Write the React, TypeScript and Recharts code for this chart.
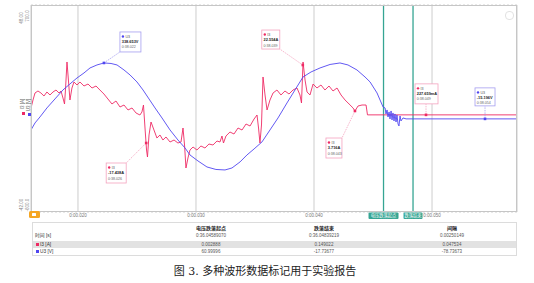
import React from "react"
import {
  LineChart, Line, XAxis, YAxis, CartesianGrid, ReferenceLine, ReferenceDot
} from "recharts"

// I3 current trace: [time ms, current A]
const currentTrace: [number, number][] = [
  [16.02, 3.22], [16.19, 6.7], [16.36, 9.74], [16.61, 10.61], [16.86, 9.74], [17.12, 8.43],
  [17.37, 10.17], [17.63, 8.87], [17.88, 10.17], [18.14, 11.04], [18.39, 9.74], [18.56, 10.61],
  [18.73, 7.57], [18.86, 4.96], [18.94, 11.04], [19.07, 23.22], [19.19, 15.39], [19.32, 6.7],
  [19.49, 11.91], [19.66, 14.52], [19.92, 13.22], [20.17, 14.52], [20.51, 12.78], [20.85, 13.65],
  [21.19, 11.91], [21.53, 12.78], [21.86, 11.04], [22.2, 9.3], [22.54, 7.13], [22.88, 4.96],
  [23.22, 6.26], [23.56, 3.65], [23.9, 4.52], [24.24, 2.35], [24.58, 3.22], [24.92, 1.04],
  [25.25, 0.17], [25.42, 1.48], [25.55, 4.52], [25.68, -5.48], [25.81, -15.04], [25.89, -18.09],
  [26.02, -8.52], [26.19, -2.87], [26.44, -6.35], [26.69, -9.83], [26.95, -8.52], [27.2, -10.7],
  [27.46, -9.39], [27.8, -11.57], [28.14, -10.7], [28.47, -12.0], [28.73, -11.57], [28.9, -5.48],
  [29.03, -12.87], [29.15, -22.87], [29.32, -18.52], [29.49, -15.04], [29.75, -13.74], [30.08, -15.04],
  [30.42, -13.3], [30.76, -14.17], [31.1, -12.44], [31.44, -12.87], [31.78, -11.13], [32.03, -11.57],
  [32.2, -8.96], [32.33, -12.0], [32.54, -8.96], [32.88, -7.22], [33.22, -8.09], [33.56, -5.48],
  [33.9, -6.35], [34.24, -3.74], [34.58, -4.61], [34.92, -1.57], [35.17, 0.17], [35.3, -5.48],
  [35.42, -12.0], [35.55, -4.17], [35.68, 16.7], [35.85, 8.87], [36.02, 2.35], [36.27, 6.7],
  [36.53, 9.74], [36.86, 11.04], [37.2, 8.87], [37.54, 10.61], [37.88, 9.3], [38.22, 11.04],
  [38.56, 11.91], [38.81, 8.87], [38.94, 5.39], [39.07, 23.22], [39.24, 15.39], [39.41, 10.17],
  [39.66, 8.87], [39.92, 13.65], [40.25, 11.91], [40.59, 13.22], [40.93, 11.04], [41.27, 12.78],
  [41.61, 10.61], [41.95, 11.91], [42.29, 8.87], [42.63, 6.7], [42.97, 4.96], [43.31, 3.22],
  [43.47, 1.91], [43.73, 4.09], [44.07, 4.52], [44.41, 4.52], [44.53, 0.23], [45.17, 0.23],
  [47.29, 0.23], [49.49, 0.23], [57.2, 0.23],
]

// U3 voltage trace: [time ms, voltage V]
const voltageTrace: [number, number][] = [
  [16.02, -84.8], [16.36, -40.8], [16.78, -3.1], [17.37, 53.4], [18.05, 109.9], [18.73, 166.4],
  [19.32, 204.1], [19.92, 241.8], [20.51, 273.2], [21.02, 304.6], [21.61, 323.4], [22.2, 336.0],
  [22.8, 332.8], [23.31, 323.4], [23.9, 292.0], [24.41, 260.6], [25.0, 216.7], [25.51, 166.4],
  [26.02, 109.9], [26.53, 53.4], [27.12, -9.4], [27.8, -84.8], [28.47, -147.6], [29.07, -197.8],
  [29.49, -241.8], [30.17, -279.5], [30.93, -317.1], [31.69, -332.8], [32.46, -336.0], [33.05, -323.4],
  [33.73, -285.7], [34.32, -241.8], [34.92, -204.1], [35.59, -160.1], [35.93, -122.5], [36.27, -84.8],
  [36.95, -9.4], [37.71, 84.8], [38.39, 166.4], [39.07, 248.1], [39.75, 279.5], [40.51, 304.6],
  [41.36, 326.6], [42.2, 336.0], [42.88, 323.4], [43.64, 292.0], [44.32, 248.1], [44.75, 216.7],
  [45.34, 147.6], [45.85, 59.7], [46.02, 53.4], [46.1, 15.7], [46.19, 40.8], [46.27, -3.1],
  [46.36, 28.3], [46.44, -15.7], [46.53, 34.5], [46.61, -22.0], [46.69, 22.0], [46.78, -28.3],
  [46.86, 15.7], [46.95, -34.5], [47.03, 9.4], [47.12, -47.1], [47.2, -59.7], [47.29, 3.1],
  [47.37, -28.3], [47.54, -9.4], [47.8, -15.2], [54.49, -15.2], [57.2, -15.2],
]

const timeTicks = [20, 30, 40, 50]
const voltGrid = [650, 487, 323, 160, -3, -166, -330, -493]

// voltage drop cursors (ms)
const dropStart = 45.89
const dropEnd = 48.39

// marker annotations
const markerSeries = ["U3", "I3", "I3", "I3", "I3", "U3"]
const markerTimes = [22.2, 39.05, 25.78, 43.47, 49.49, 54.49]
const markerValues = [336.0, 21.9, -12.0, 1.91, 0.23, -15.2]
const markerReadouts = ["338.653V", "22.554A", "-17.438A", "3.716A", "227.659mA", "-15.196V"]
const markerStamps = ["0:38.022", "0:38.039", "0:38.026", "0:38.043", "0:38.049", "0:38.054"]

// table below the chart
const tableHeaders = ["电压跌落起点", "跌落结束", "间隔"]
const tableTimes = ["0:36.04589070", "0:36.04839219", "0.00250149"]
const tableI3 = ["0.002888", "0.149022", "0.047534"]
const tableU3 = ["60.99996", "-17.73677", "-78.73673"]

const RED = "#ee2a64"
const BLUE = "#5046f0"
const TEAL = "#35a593"

// box placement relative to each marker (px)
const boxLayout = [
  { dx: 16, dy: -31, w: 21, h: 20 },
  { dx: -41, dy: -35, w: 18, h: 19 },
  { dx: -40, dy: 20, w: 20, h: 20 },
  { dx: -29, dy: 27, w: 16, h: 20 },
  { dx: -11, dy: -31, w: 23, h: 20 },
  { dx: -10, dy: -31, w: 20, h: 18 },
]

const currentData = currentTrace.map(([t, v]) => ({ t, v }))
const voltageData = voltageTrace.map(([t, v]) => ({ t, v }))

const markerShape = (i: number) => (p: any) => {
  const { cx, cy } = p
  const o = boxLayout[i]
  const isU = markerSeries[i] === "U3"
  const col = isU ? BLUE : RED
  const edge = isU ? "#a59ef0" : "#f4a3bf"
  const bx = cx + o.dx
  const by = cy + o.dy
  const lx = Math.min(Math.max(cx, bx), bx + o.w)
  const ly = Math.min(Math.max(cy, by), by + o.h)
  return (
    <g>
      <line x1={cx} y1={cy} x2={lx} y2={ly} stroke={edge} strokeWidth={0.8} strokeDasharray="1.5 1" />
      <rect x={cx - 1.3} y={cy - 1.3} width={2.6} height={2.6} fill={col} />
      <rect x={bx} y={by} width={o.w} height={o.h} fill="#fff" stroke={edge} strokeWidth={0.8} />
      <circle cx={bx + 3} cy={by + 4.5} r={1.2} fill={col} />
      <text x={bx + 5.5} y={by + 5.8} fontSize={3.6} fill="#555">{markerSeries[i]}</text>
      <text x={bx + 1.8} y={by + 11} fontSize={3.9} fontWeight="bold" fill="#222">{markerReadouts[i]}</text>
      <text x={bx + 1.8} y={by + 16.5} fontSize={3.6} fill="#666">{markerStamps[i]}</text>
    </g>
  )
}

const badge = (text: string, w: number) => (props: any) => {
  const { x, y, height } = props.viewBox
  const by = y + height + 0.5
  return (
    <g>
      <rect x={x - w / 2} y={by} width={w} height={6.5} rx={1} fill={TEAL} />
      <text x={x} y={by + 4.8} fontSize={4.3} fill="#fff" textAnchor="middle">{text}</text>
    </g>
  )
}

const RotText = ({ x, y, text, color = "#888" }: { x: number; y: number; text: string; color?: string }) => (
  <div style={{
    position: "absolute", left: x, top: y, transform: "translate(-50%,-50%) rotate(-90deg)",
    fontSize: 4.5, lineHeight: 1, whiteSpace: "nowrap", color,
  }}>{text}</div>
)

const colCenters = [178, 291, 419]

const TableRow = ({ top, label, cells, bold, bg, swatch }: any) => (
  <div style={{ position: "absolute", left: 0, right: 0, top, height: 7, background: bg || "transparent" }}>
    {swatch && (
      <div style={{ position: "absolute", left: 3, top: 2, width: 3, height: 3, background: swatch }} />
    )}
    <div style={{ position: "absolute", left: swatch ? 7 : 2, top: 1, fontSize: 4.8, lineHeight: "5px", color: "#333" }}>
      {label}
    </div>
    {cells.map((c: string, i: number) => (
      <div key={i} style={{
        position: "absolute", left: colCenters[i], top: 1, transform: "translateX(-50%)",
        fontSize: bold ? 5 : 4.5, fontWeight: bold ? "bold" : "normal", lineHeight: "5px",
        color: bold ? "#222" : "#555", whiteSpace: "nowrap",
      }}>{c}</div>
    ))}
  </div>
)

export default function App() {
  return (
    <div style={{
      position: "absolute", left: 0, top: 0, width: 534, height: 283, background: "#fff",
      overflow: "hidden", fontFamily: '"Liberation Sans", "Noto Sans CJK SC", sans-serif',
    }}>
      <div style={{ position: "absolute", left: 0, top: 0 }}>
        <LineChart width={534} height={222} margin={{ top: 5, right: 17, bottom: 2, left: 31 }}>
          <CartesianGrid yAxisId="v" horizontal={false} stroke="#cdcdcd" />
          <CartesianGrid yAxisId="v" vertical={false} stroke="#d2d2d2" strokeDasharray="2 2" />
          <XAxis
            type="number" dataKey="t" domain={[16.02, 57.2]} allowDataOverflow ticks={timeTicks}
            tickFormatter={(t) => `0:00.0${t}`} height={8} tickSize={0} tickMargin={2}
            axisLine={false} tick={{ fontSize: 4.5, fill: "#777" }}
          />
          <YAxis yAxisId="v" type="number" domain={[-600, 700]} allowDataOverflow ticks={voltGrid}
            width={0} tick={false} axisLine={false} tickLine={false} />
          <YAxis yAxisId="i" orientation="right" type="number" domain={[-42, 48]} allowDataOverflow
            width={0} tick={false} axisLine={false} tickLine={false} />
          <ReferenceLine x={dropStart} yAxisId="v" stroke={TEAL} strokeWidth={1.3} label={badge("电压跌落起点", 30)} />
          <ReferenceLine x={dropEnd} yAxisId="v" stroke={TEAL} strokeWidth={1.3} label={badge("跌落结束", 19)} />
          <Line data={currentData} dataKey="v" yAxisId="i" type="linear" stroke={RED}
            strokeWidth={0.9} dot={false} isAnimationActive={false} />
          <Line data={voltageData} dataKey="v" yAxisId="v" type="linear" stroke={BLUE}
            strokeWidth={0.9} dot={false} isAnimationActive={false} />
          {markerTimes.map((t, i) => (
            <ReferenceDot key={i} x={t} y={markerValues[i]} yAxisId={markerSeries[i] === "U3" ? "v" : "i"}
              r={1.5} ifOverflow="visible" shape={markerShape(i)} />
          ))}
        </LineChart>
      </div>

      {/* plot frame */}
      <div style={{ position: "absolute", left: 31, top: 5, width: 486, height: 207, border: "1px solid #c6c6c6", boxSizing: "border-box", pointerEvents: "none" }} />
      {/* zoom reset icon */}
      <div style={{ position: "absolute", left: 505, top: 11, width: 7, height: 7, borderRadius: 4, border: "1px solid #e2e2e2" }} />

      {/* left axis labels */}
      <RotText x={22} y={18} text="48.00" />
      <RotText x={28} y={16} text="700.0" />
      <RotText x={22} y={205} text="-42.00" />
      <RotText x={28} y={205} text="-600.0" />
      <RotText x={23} y={104} text="I3 [A]" color="#666" />
      <RotText x={29} y={105} text="U3 [V]" color="#666" />
      <div style={{ position: "absolute", left: 22, top: 112, width: 3, height: 3, background: RED }} />
      <div style={{ position: "absolute", left: 28, top: 113, width: 3, height: 3, background: BLUE }} />

      {/* orange button */}
      <div style={{ position: "absolute", left: 29, top: 211, width: 11, height: 7, background: "#f5a623", borderRadius: 1.5 }}>
        <div style={{ position: "absolute", left: 3, top: 2, width: 4, height: 3, background: "#fff", borderRadius: 0.5 }} />
      </div>

      {/* table */}
      <div style={{ position: "absolute", left: 32, top: 222, width: 485, height: 34, border: "1px solid #dcdcdc", boxSizing: "border-box" }}>
        <TableRow top={1.5} label="" cells={tableHeaders} bold />
        <TableRow top={8.5} label="时间 [s]" cells={tableTimes} />
        <TableRow top={17.5} label="I3 [A]" cells={tableI3} bg="#e2e2e2" swatch={RED} />
        <TableRow top={25} label="U3 [V]" cells={tableU3} swatch={BLUE} />
      </div>

      {/* caption */}
      <div style={{
        position: "absolute", left: 0, top: 265, width: 530, textAlign: "center", fontSize: 11,
        lineHeight: "14px", color: "#222", fontFamily: '"DejaVu Serif", "Noto Sans CJK SC", serif',
      }}>
        图 3. 多种波形数据标记用于实验报告
      </div>
    </div>
  )
}
